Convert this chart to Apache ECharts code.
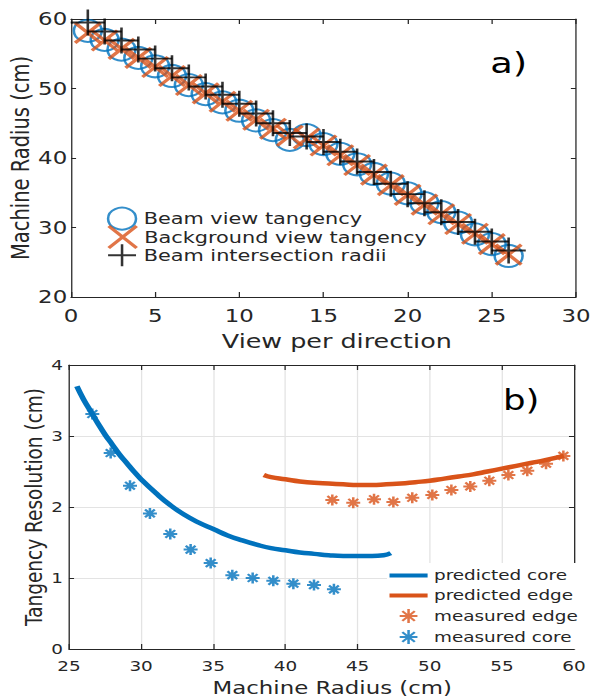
<!DOCTYPE html>
<html>
<head>
<meta charset="utf-8">
<script src="https://cdn.jsdelivr.net/npm/echarts@6/dist/echarts.min.js"></script>
<style>
  html, body { margin: 0; padding: 0; background: #fff; }
  /* the original figure is stretched horizontally, so draw narrower and stretch */
  #main { width: 466.9px; height: 700px; transform: scaleX(1.27); transform-origin: 0 0; }
</style>
</head>
<body>
<div id="main"></div>
<script>
// a) tangency radius for each view
const views = [1, 2, 3, 4, 5, 6, 7, 8, 9, 10, 11, 12, 13, 14, 15, 16, 17, 18, 19, 20, 21, 22, 23, 24, 25, 26];
const beamTangency = [58.3, 57.0, 55.6, 54.4, 53.2, 51.8, 50.5, 49.2, 48.0, 46.8, 45.4, 44.0, 42.6, 43.3, 42.0, 40.6, 39.1, 37.7, 36.3, 34.9, 33.5, 32.2, 30.7, 29.0, 27.6, 25.9];
const backgroundTangency = [58.0, 56.9, 55.7, 54.4, 53.1, 51.8, 50.5, 49.3, 48.1, 46.8, 45.5, 44.2, 43.2, 42.8, 41.8, 40.4, 39.0, 37.6, 36.1, 34.7, 33.3, 31.9, 30.5, 29.1, 27.6, 26.1];
const intersectionRadii = [59.5, 58.2, 56.9, 55.6, 54.3, 52.9, 51.6, 50.3, 49.1, 47.8, 46.4, 45.0, 43.6, 43.1, 42.3, 40.9, 39.5, 38.0, 36.3, 34.8, 33.5, 32.2, 30.8, 29.4, 28.0, 26.7];

// b) tangency resolution vs machine radius
const coreRadius = [25.55, 26, 26.5, 27, 27.5, 28, 28.5, 29, 29.5, 30, 31, 32, 33, 34, 35, 36, 37, 38, 39, 40, 41, 42, 43, 44, 45, 46, 46.8, 47.3];
const coreResolution = [3.70, 3.52, 3.35, 3.18, 3.02, 2.88, 2.74, 2.62, 2.50, 2.39, 2.20, 2.03, 1.89, 1.78, 1.69, 1.60, 1.53, 1.47, 1.42, 1.39, 1.36, 1.34, 1.32, 1.31, 1.31, 1.31, 1.32, 1.35];
const edgeRadius = [38.5, 39, 40, 41, 42, 43, 44, 45, 46, 47, 48, 49, 50, 51, 52, 53, 54, 55, 56, 57, 58, 59.3];
const edgeResolution = [2.45, 2.42, 2.39, 2.36, 2.34, 2.33, 2.32, 2.31, 2.31, 2.32, 2.33, 2.35, 2.37, 2.40, 2.43, 2.46, 2.50, 2.54, 2.58, 2.62, 2.66, 2.72];
const measEdgeRadius = [43.25, 44.70, 46.14, 47.48, 48.79, 50.18, 51.50, 52.81, 54.13, 55.45, 56.76, 58.06, 59.26];
const measEdgeResolution = [2.10, 2.06, 2.11, 2.07, 2.13, 2.17, 2.24, 2.29, 2.37, 2.45, 2.51, 2.61, 2.72];
const measCoreRadius = [26.62, 27.89, 29.23, 30.61, 32.02, 33.43, 34.82, 36.32, 37.73, 39.16, 40.55, 41.98, 43.36];
const measCoreResolution = [3.31, 2.76, 2.30, 1.91, 1.62, 1.40, 1.21, 1.04, 1.00, 0.96, 0.92, 0.90, 0.84];

const blue = "#0072BD";
const orange = "#D95319";
const ink = "#262626";
const font = "DejaVu Sans";
const starPath = "path://M10,0L10,20M0,10L20,10M3,3L17,17M3,17L17,3";

function pairs(xs, ys) {
  return xs.map((x, i) => [x, ys[i]]);
}

// one labelled axis plus a mirrored one, so the plot gets a full box
function axisPair(gridIndex, pos, mirror, min, max, interval, o) {
  const base = {
    gridIndex: gridIndex,
    type: "value",
    min: min,
    max: max,
    interval: interval,
    axisLine: { onZero: false, lineStyle: { color: ink, width: 1 } },
    axisTick: { inside: true, length: o.tick, lineStyle: { color: ink } }
  };
  return [
    Object.assign({}, base, {
      position: pos,
      axisLabel: { margin: o.margin, fontSize: o.fontSize, color: ink, fontFamily: font },
      splitLine: { show: o.grid, lineStyle: { color: "#e3e3e3" } },
      name: o.name,
      nameLocation: "middle",
      nameGap: o.nameGap,
      nameMoveOverlap: false,
      nameTextStyle: { fontSize: o.nameSize, color: ink, fontFamily: font, padding: o.namePad }
    }),
    Object.assign({}, base, {
      position: mirror,
      axisLabel: { show: false },
      splitLine: { show: false }
    })
  ];
}

// top-panel legend rows are placed one by one (they overlap a little in the original)
function legendRow(name, top, borderWidth) {
  return {
    orient: "vertical",
    left: 84.1,
    top: top,
    padding: 0,
    itemWidth: 24,
    itemHeight: 22,
    selectedMode: false,
    textStyle: { fontSize: 16.4, color: ink, fontFamily: font },
    data: [{ name: name, itemStyle: { borderWidth: borderWidth } }]
  };
}

const xAxes = [].concat(
  axisPair(0, "bottom", "top", 0, 30, 5, { tick: 5, margin: 10, fontSize: 18, grid: false, name: "View per direction", nameGap: 34, nameSize: 20, namePad: [0, 0, 0, 21] }),
  axisPair(1, "bottom", "top", 25, 60, 5, { tick: 5, margin: 10, fontSize: 14.5, grid: true, name: "Machine Radius (cm)", nameGap: 30, nameSize: 18, namePad: [0, 0, 0, 17] })
);
const yAxes = [].concat(
  axisPair(0, "left", "right", 20, 60, 10, { tick: 4, margin: 3, fontSize: 18, grid: false, name: "Machine Radius (cm)", nameGap: 30, nameSize: 19.5, namePad: 0 }),
  axisPair(1, "left", "right", 0, 4, 1, { tick: 4, margin: 4.7, fontSize: 14.5, grid: true, name: "Tangency Resolution (cm)", nameGap: 18, nameSize: 18.5, namePad: 0 })
);

const noMarker = { color: "rgba(0,0,0,0)", borderWidth: 0, opacity: 0 };

const chart = echarts.init(document.getElementById("main"), null, { renderer: "svg" });
chart.setOption({
  animation: false,
  backgroundColor: "#fff",
  grid: [
    { left: 55.9, top: 19, width: 397.6, height: 278, outerBoundsMode: "none" },
    { left: 54.3, top: 365, width: 397.7, height: 284, outerBoundsMode: "none" }
  ],
  xAxis: xAxes,
  yAxis: yAxes,
  legend: [
    legendRow("Beam view tangency", 206.7, 2),
    legendRow("Background view tangency", 224.5, 3),
    legendRow("Beam intersection radii", 243.3, 2),
    {
      orient: "vertical",
      left: 304.7,
      top: 563,
      padding: [5, 3, 4, 0],
      backgroundColor: "#fff",
      itemWidth: 30,
      itemHeight: 14,
      itemGap: 5,
      selectedMode: false,
      lineStyle: { width: 4 },
      textStyle: { fontSize: 14.5, color: ink, fontFamily: font },
      data: [
        { name: "predicted core", itemStyle: noMarker },
        { name: "predicted edge", itemStyle: noMarker },
        { name: "measured edge", itemStyle: { borderWidth: 2 } },
        { name: "measured core", itemStyle: { borderWidth: 2 } }
      ]
    }
  ],
  graphic: [
    { type: "text", left: 386, top: 48, style: { text: "a)", fontSize: 29, fill: "#000", fontFamily: font } },
    { type: "text", left: 396, top: 386, style: { text: "b)", fontSize: 28, fill: "#000", fontFamily: font } }
  ],
  series: [
    {
      name: "Beam view tangency",
      type: "scatter",
      xAxisIndex: 0,
      yAxisIndex: 0,
      silent: true,
      symbol: "circle",
      symbolSize: 22,
      itemStyle: { color: "rgba(0,0,0,0)", borderColor: blue, borderWidth: 2 },
      data: pairs(views, beamTangency)
    },
    {
      name: "Background view tangency",
      type: "scatter",
      xAxisIndex: 0,
      yAxisIndex: 0,
      silent: true,
      symbol: "path://M0,0L20,20M0,20L20,0",
      symbolSize: 20,
      itemStyle: { color: "rgba(0,0,0,0)", borderColor: orange, borderWidth: 3 },
      data: pairs(views, backgroundTangency)
    },
    {
      name: "Beam intersection radii",
      type: "scatter",
      xAxisIndex: 0,
      yAxisIndex: 0,
      silent: true,
      symbol: "path://M0,10L20,10M10,0L10,20",
      symbolSize: [27, 26],
      itemStyle: { color: "rgba(0,0,0,0)", borderColor: "#000", borderWidth: 2 },
      data: pairs(views, intersectionRadii)
    },
    {
      name: "predicted core",
      type: "line",
      xAxisIndex: 2,
      yAxisIndex: 2,
      silent: true,
      symbol: "none",
      smooth: true,
      color: blue,
      lineStyle: { color: blue, width: 4.5 },
      data: pairs(coreRadius, coreResolution)
    },
    {
      name: "predicted edge",
      type: "line",
      xAxisIndex: 2,
      yAxisIndex: 2,
      silent: true,
      symbol: "none",
      smooth: true,
      color: orange,
      lineStyle: { color: orange, width: 4.5 },
      data: pairs(edgeRadius, edgeResolution)
    },
    {
      name: "measured edge",
      type: "scatter",
      xAxisIndex: 2,
      yAxisIndex: 2,
      silent: true,
      symbol: starPath,
      symbolSize: 11,
      symbolKeepAspect: true,
      itemStyle: { color: "rgba(0,0,0,0)", borderColor: orange, borderWidth: 2 },
      data: pairs(measEdgeRadius, measEdgeResolution)
    },
    {
      name: "measured core",
      type: "scatter",
      xAxisIndex: 2,
      yAxisIndex: 2,
      silent: true,
      symbol: starPath,
      symbolSize: 11,
      symbolKeepAspect: true,
      itemStyle: { color: "rgba(0,0,0,0)", borderColor: blue, borderWidth: 2 },
      data: pairs(measCoreRadius, measCoreResolution)
    }
  ]
});
</script>
</body>
</html>
